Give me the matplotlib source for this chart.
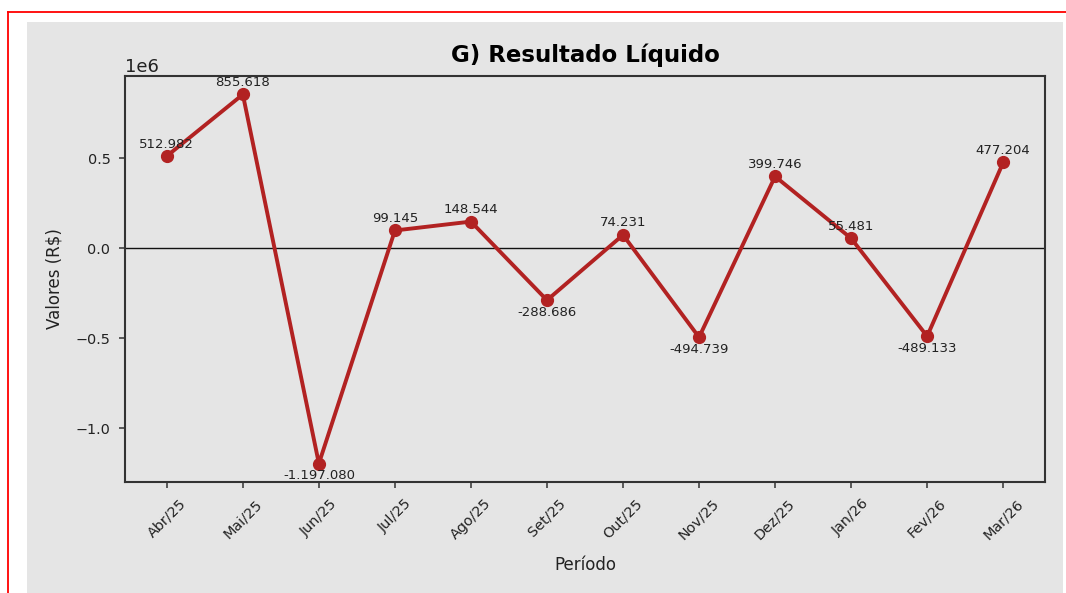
import matplotlib
matplotlib.use("Agg")
import matplotlib.pyplot as plt
from matplotlib.lines import Line2D
from matplotlib.patches import Rectangle

# ---------------------------------------------------------------------------
# Data
# ---------------------------------------------------------------------------
periodos = ["Abr/25", "Mai/25", "Jun/25", "Jul/25", "Ago/25", "Set/25",
            "Out/25", "Nov/25", "Dez/25", "Jan/26", "Fev/26", "Mar/26"]
resultado = [512982, 855618, -1197080, 99145, 148544, -288686,
             74231, -494739, 399746, 55481, -489133, 477204]

W, H = 1066, 593
BG = "#e5e5e5"
LINE = "#b22222"
DARK = "#333333"


def fmt_br(v):
    return f"{v:,.0f}".replace(",", ".")


fig = plt.figure(figsize=(W / 100, H / 100), dpi=100, facecolor="white")

# page frame: red border + gray figure panel (behind the axes)
fig.patches.append(Rectangle((27 / W, 0), (1063 - 27) / W, 1 - 22 / H,
                             transform=fig.transFigure, facecolor=BG,
                             edgecolor="none", zorder=-10))
fig.lines.append(Line2D([8 / W, 1], [1 - 12 / H, 1 - 12 / H],
                        transform=fig.transFigure, color="#ff0000", lw=1.3,
                        zorder=-10))
fig.lines.append(Line2D([8 / W, 8 / W], [0, 1 - 12 / H],
                        transform=fig.transFigure, color="#ff0000", lw=1.3,
                        zorder=-10))

ax = fig.add_axes([125 / W, 1 - 482 / H, 920 / W, 406 / H])
ax.set_facecolor(BG)

x = list(range(len(periodos)))
ax.plot(x, resultado, color=LINE, lw=2.8, marker="o", markersize=8.5, zorder=3)
ax.axhline(0, color="#111111", lw=1, zorder=2)

for xi, v in zip(x, resultado):
    if v >= 0:
        ax.annotate(fmt_br(v), (xi, v), xytext=(0, 4), textcoords="offset points",
                    ha="center", va="bottom", fontsize=9.5, color="#222222", zorder=4)
    else:
        ax.annotate(fmt_br(v), (xi, v), xytext=(0, -4), textcoords="offset points",
                    ha="center", va="top", fontsize=9.5, color="#222222", zorder=4)

ax.set_xticks(x)
ax.set_xticklabels(periodos, rotation=45, fontsize=10.4)
ax.tick_params(axis="both", length=4.5, width=1.1, pad=6, color=DARK,
               labelcolor="#222222")
ax.tick_params(axis="y", labelsize=10.4)
ax.yaxis.get_offset_text().set_fontsize(13)
ax.yaxis.get_offset_text().set_color("#222222")

ax.set_title("G) Resultado Líquido", fontsize=16.5, fontweight="bold", pad=10)
ax.set_ylabel("Valores (R$)", fontsize=12, labelpad=9, color="#222222")
ax.set_xlabel("Período", fontsize=12, labelpad=10, color="#222222")

for s in ax.spines.values():
    s.set_linewidth(1.5)
    s.set_color(DARK)

fig.savefig("out.png", dpi=100, facecolor="white")
